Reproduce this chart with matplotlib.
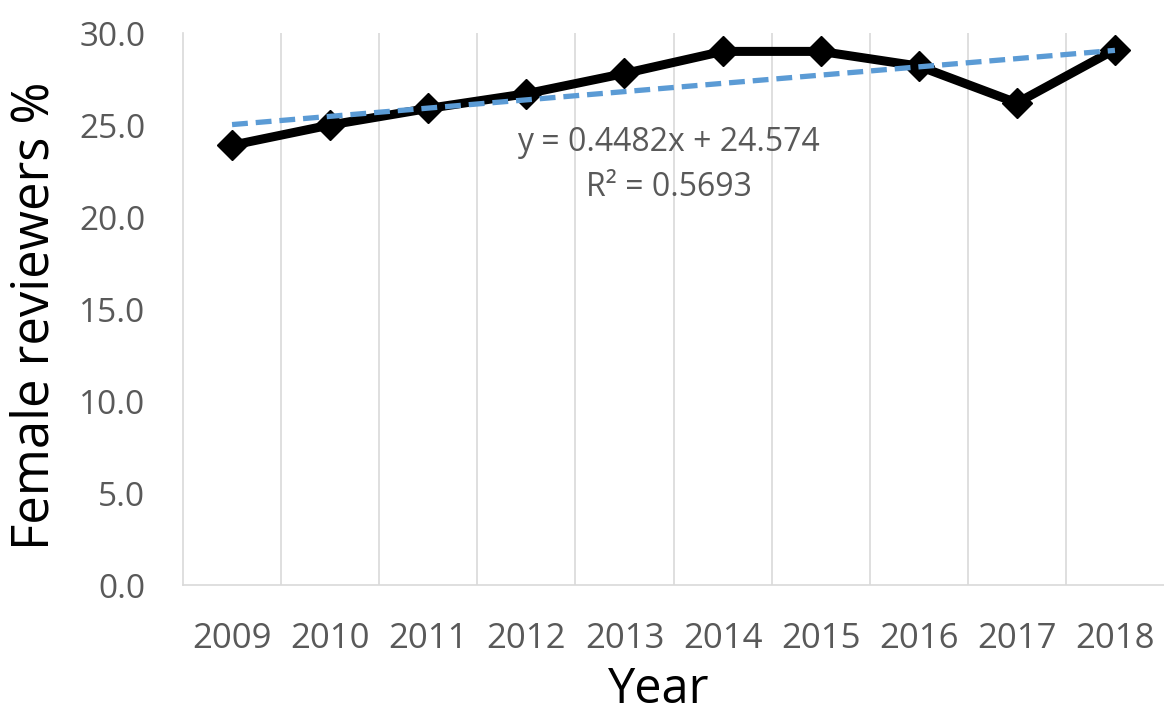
import numpy as np
from matplotlib import pyplot as plt

years = ['2009', '2010', '2011', '2012', '2013', '2014', '2015', '2016', '2017', '2018']
female_pct = [23.9, 25.0, 25.9, 26.7, 27.8, 29.0, 29.0, 28.2, 26.2, 29.1]

# Excel linear trendline, x = 1..10
trend_slope = 0.4482
trend_intercept = 24.574
trend_r2 = 0.5693

plt.rcParams['font.family'] = ['Open Sans', 'DejaVu Sans']
grey = '#595959'
grid_c = '#D9D9D9'

fig = plt.figure(figsize=(11.64, 7.18), dpi=100)
ax = fig.add_axes([183/1164, 1 - 585/718, 1 - 183/1164, (585 - 33)/718])

x = np.arange(len(years))
trend = trend_slope * (x + 1) + trend_intercept

for b in np.arange(0.5, len(years) - 0.5, 1.0):
    ax.axvline(b, color=grid_c, lw=1.2, zorder=0)

ax.plot(x, female_pct, color='black', lw=6.5, marker='D', ms=15, zorder=3)
ax.plot(x, trend, color='#5B9BD5', lw=3.8, ls=(0, (3, 1.5)), zorder=4)

ax.set_xlim(-0.5, len(years) - 0.5)
ax.set_ylim(0, 30)
ax.set_yticks(np.arange(0, 31, 5))
ax.set_yticklabels([f'{v:.1f}' for v in np.arange(0, 31, 5)])
ax.set_xticks(x)
ax.set_xticklabels(years)
ax.tick_params(axis='both', length=0, labelcolor=grey)
ax.tick_params(axis='x', pad=27, labelsize=25)
ax.tick_params(axis='y', pad=27, labelsize=24)

for s in ['top', 'right']:
    ax.spines[s].set_visible(False)
ax.spines['left'].set_color(grid_c)
ax.spines['bottom'].set_color(grid_c)
ax.spines['left'].set_linewidth(1.2)
ax.spines['bottom'].set_linewidth(1.2)

ax.text(4.45, 24.05, f'y = {trend_slope}x + {trend_intercept}', ha='center', va='center',
        fontsize=23, color=grey)
ax.text(4.45, 21.6, f'R² = {trend_r2}', ha='center', va='center', fontsize=23, color=grey)

fig.text(35/1164, 1 - 316/718, 'Female reviewers %', rotation=90, ha='center', va='center',
         fontsize=36.5, color='black')
fig.text(659/1164, 0.004, 'Year', ha='center', va='bottom', fontsize=35, color='black')

fig.savefig('out.png', dpi=100)
